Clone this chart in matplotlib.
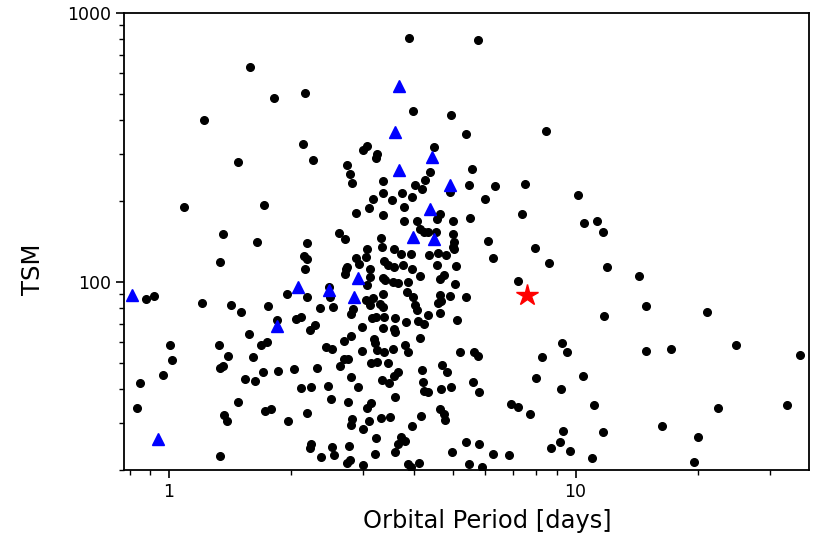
import matplotlib
matplotlib.use("Agg")
import matplotlib.pyplot as plt
from matplotlib.ticker import FuncFormatter, NullFormatter

# Planet sample (orbital period in days, TSM)
period = [
    1.578, 1.81, 1.218, 1.477, 1.087, 1.709, 1.36, 1.643,
    2.154, 2.138, 2.257, 3.008, 3.077, 3.891, 3.981, 4.933, 5.372, 4.495,
    0.877, 0.920, 1.204, 1.331, 1.417, 1.506, 1.752, 1.956, 1.845, 1.004,
    1.015, 0.965, 0.849, 0.834, 1.324, 1.396, 1.331, 1.354, 1.570, 1.680,
    1.743, 1.606, 1.707, 1.858, 2.032, 1.538, 1.627, 1.477, 1.719, 1.778,
    1.365, 1.385, 1.964, 1.331, 2.055,
    3.244, 3.226, 2.747, 2.788, 2.819, 3.362, 3.362, 3.171, 3.095, 2.879,
    3.351, 2.618, 2.716, 3.33, 2.183, 3.065, 3.338, 2.146, 2.188, 2.884,
    3.043, 2.941, 3.37, 2.154, 2.747, 2.72, 3.126, 2.709, 3.118, 3.351,
    3.395, 3.065, 2.179, 2.474, 2.488, 3.048, 3.167, 3.357, 3.118, 3.306,
    2.346, 2.53, 2.835,
    5.557, 4.378, 4.255, 4.026, 4.198, 5.483, 4.921, 3.734, 3.953, 3.533,
    3.79, 4.65, 4.564, 4.989, 5.514, 3.79, 4.073, 4.15, 4.231, 4.328,
    4.538, 4.989, 5.018, 4.989, 5.018, 3.58, 3.719, 3.937, 4.352, 4.581,
    4.802, 3.448, 3.58, 3.754, 4.564, 5.075, 3.953, 4.143, 4.756, 4.65,
    3.547, 3.662, 3.876, 5.055, 3.848, 3.975, 4.65, 4.669, 4.921, 5.382,
    4.03, 4.597,
    3.351, 2.799, 2.106, 2.28, 2.216, 3.153, 3.226, 3.382, 2.991, 3.351,
    2.799, 2.694, 3.195, 3.208, 2.428, 2.522, 2.979, 3.244, 3.37, 2.694,
    2.756, 2.634, 3.135, 3.244, 2.316, 2.81, 3.332, 2.115, 2.229, 2.46,
    2.917, 2.507, 2.762, 3.135, 3.077, 2.179, 2.825, 2.799, 3.105, 3.319,
    3.008, 3.226, 2.238, 2.22, 2.522, 2.778, 2.36, 2.545, 2.788, 2.735,
    3.213, 3.008,
    4.066, 3.6, 3.825, 4.103, 4.245, 4.328, 4.65, 5.112, 3.567, 3.6,
    4.15, 3.811, 3.863, 3.547, 5.21, 5.64, 5.75, 3.459, 4.688, 4.83,
    4.183, 3.662, 3.58, 3.479, 4.207, 4.231, 4.328, 4.669, 4.941, 5.59,
    5.785, 3.594, 4.65, 4.74, 4.784, 4.166, 3.493, 3.953, 3.719, 3.804,
    3.662, 3.6, 5.382, 5.785, 4.969, 3.863, 3.937, 4.113, 5.483, 5.88,
    5.77, 8.447, 6.32, 7.524, 5.97, 10.15, 7.397, 10.48, 11.31, 11.7,
    6.087, 7.934, 6.264, 8.612, 11.97, 7.219, 11.77, 9.235, 9.502, 8.245,
    7.98, 10.45, 9.2, 6.922, 7.219, 7.71, 11.1, 9.325, 11.7, 9.13,
    8.69, 9.665, 6.264, 6.845, 11.0,
    14.31, 14.92, 21.1, 14.86, 17.21, 24.82, 35.7, 22.41, 33.05, 16.27,
    20.02, 19.53,
]
tsm = [
    628, 483, 401, 279, 190, 194, 151, 141,
    505, 325, 285, 310, 320, 805, 432, 418, 355, 318,
    86.2, 88.7, 83.8, 118.4, 81.9, 77.2, 81.6, 90.2, 72.2, 58.2,
    51.3, 45.2, 42.1, 33.9, 58.2, 52.9, 47.8, 48.7, 63.9, 58.2,
    60.0, 52.5, 46.4, 46.6, 47.6, 43.6, 42.8, 35.7, 33.2, 33.8,
    32.0, 30.3, 30.5, 22.5, 72.7,
    299, 288, 273, 253, 233, 237, 214, 203, 188, 181,
    178, 152.5, 144, 145.3, 139.3, 133, 135.3, 125, 121.4, 122.5,
    123.5, 116.6, 119.7, 111.5, 114, 111.5, 111.8, 106.8, 104.6, 103.7,
    101.7, 97.5, 88.2, 96.0, 87.7, 85.7, 87.0, 90.0, 82.1, 82.8,
    80.3, 80.9, 79.1,
    262, 256, 239, 229, 222, 230, 216.7, 214.8, 207.6, 201.8,
    190.5, 178.9, 171, 168.6, 173.4, 168.6, 169, 157.4, 153.8, 153.8,
    153.8, 150.8, 141.2, 135.3, 132.3, 132.6, 127.1, 127.1, 126, 127.9,
    126, 115.7, 114, 115.7, 115.7, 114.7, 111.5, 105.3, 106.2, 102.3,
    100.3, 99.4, 100.3, 98, 92, 88.2, 89.5, 85.2, 88.9, 88.2,
    82.1, 83.3,
    80.5, 76.0, 74.3, 69.2, 66.3, 73.3, 73.9, 74.3, 67.9, 67.3,
    63.0, 60.5, 61.2, 59.5, 57.5, 56.4, 55.6, 55.9, 54.8, 51.6,
    51.9, 48.7, 50.1, 50.5, 48.0, 44.5, 43.2, 40.3, 40.8, 41.2,
    40.8, 36.7, 35.7, 35.4, 33.9, 32.5, 30.9, 29.4, 30.5, 31.3,
    28.4, 26.4, 25.0, 24.1, 24.4, 24.6, 22.3, 22.7, 21.8, 21.2,
    22.9, 20.9,
    78.7, 73.3, 70.8, 71.8, 69.8, 75.4, 76.5, 72.2, 66.7, 65.4,
    61.8, 58.3, 55.1, 56.2, 54.8, 55.1, 53.1, 50.1, 49.1, 46.4,
    47.1, 46.4, 44.7, 42.2, 42.6, 39.4, 39.1, 39.9, 40.6, 42.6,
    38.9, 37.3, 33.6, 32.3, 30.7, 31.8, 31.6, 29.2, 26.5, 25.7,
    25.0, 23.4, 25.5, 25.0, 23.4, 21.1, 20.6, 21.3, 21.1, 20.6,
    796, 365, 227, 231, 203, 211, 178.5, 165.3, 168.6, 153,
    141.7, 133.8, 123.1, 117.3, 113.7, 101.1, 74.7, 59.2, 55.1, 52.8,
    44.1, 44.8, 39.9, 35.3, 34.2, 32.4, 35.0, 27.9, 27.6, 25.4,
    24.1, 23.6, 22.9, 22.8, 22.2,
    105.3, 81.2, 77.6, 55.4, 56.5, 58.3, 53.4, 34.1, 34.9, 29.2,
    26.5, 21.4,
]

# Highlighted targets (blue triangles)
tri_period = [0.809, 1.845, 0.938, 3.683, 3.600, 2.908, 2.074, 2.474,
              2.851, 4.437, 3.683, 4.921, 4.393, 3.975, 4.479]
tri_tsm = [89.5, 68.6, 26.1, 535, 362, 103.2, 95.6, 93.1,
           88.2, 291, 261, 229.4, 186.4, 146.6, 144.1]

# Target planet (red star)
star_period = [7.611]
star_tsm = [89.5]

fig = plt.figure(figsize=(8.3, 5.54), dpi=100)
ax = fig.add_axes([0.1494, 0.1516, 0.8253, 0.8249])

ax.plot(period, tsm, 'o', color='black', markersize=5.5, linestyle='none')
ax.plot(tri_period, tri_tsm, '^', color='blue', markersize=8.5, linestyle='none')
ax.plot(star_period, star_tsm, '*', color='red', markersize=16, linestyle='none')

ax.set_xscale('log')
ax.set_yscale('log')
ax.set_xlim(0.775, 37.5)
ax.set_ylim(20, 1000)

plain = FuncFormatter(lambda v, pos: f'{v:g}')
for axis in (ax.xaxis, ax.yaxis):
    axis.set_major_formatter(plain)
    axis.set_minor_formatter(NullFormatter())

ax.tick_params(which='major', length=6, width=1.2, labelsize=12.5, pad=3)
ax.tick_params(which='minor', length=3.5, width=1.0)
for s in ax.spines.values():
    s.set_linewidth(1.3)

ax.set_xlabel('Orbital Period [days]', fontsize=17.4)
ax.set_ylabel('TSM', fontsize=17.5)
ax.xaxis.set_label_coords(0.53, -0.085)
ax.yaxis.set_label_coords(-0.115, 0.44)

fig.savefig('out.png', dpi=100)
